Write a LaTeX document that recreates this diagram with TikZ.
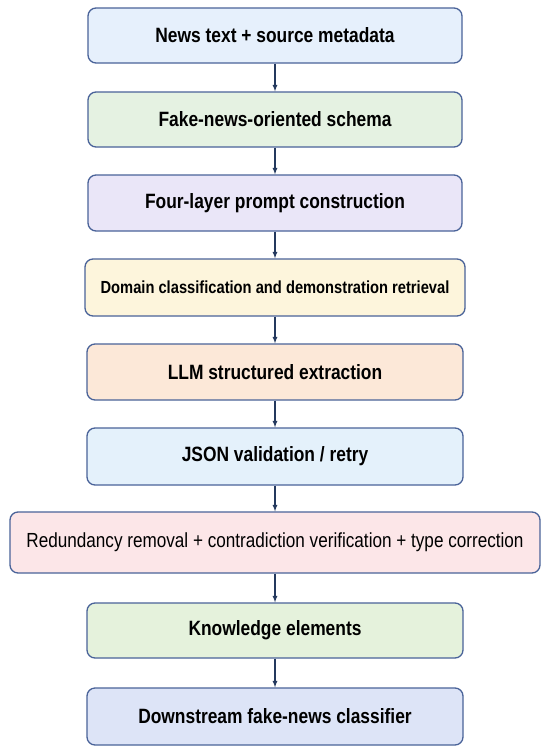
\documentclass[tikz,border=0pt]{standalone}
\usepackage{fontspec}
\setmainfont[FakeStretch=0.84]{Liberation Sans}
\definecolor{boxline}{HTML}{4A6399}
\definecolor{arrowc}{HTML}{24395E}
\definecolor{cnews}{HTML}{E6F0FC}
\definecolor{cschema}{HTML}{E5F2E2}
\definecolor{cprompt}{HTML}{EAE6F8}
\definecolor{cdomain}{HTML}{FDF5DC}
\definecolor{cllm}{HTML}{FCE8D8}
\definecolor{cjson}{HTML}{E4F1FB}
\definecolor{cclean}{HTML}{FCE6E8}
\definecolor{cknow}{HTML}{E5F2DC}
\definecolor{cdown}{HTML}{DDE4F7}
\begin{document}
\begin{tikzpicture}[x=1pt,y=-1pt,>=latex,font=\bfseries\fontsize{20.7}{24}\selectfont,
	box/.style={draw=boxline,line width=1.3pt,rounded corners=8pt,minimum width=374pt,minimum height=55pt,inner sep=0pt},
	link/.style={->,draw=arrowc,line width=1.2pt}]
	\useasboundingbox (0,0) rectangle (550,755);
	\fill[white] (0,0) rectangle (550,755);
	\node[box,fill=cnews] (news) at (275,35.5) {News text + source metadata};
	\node[box,fill=cschema] (schema) at (275,119.5) {Fake-news-oriented schema};
	\node[box,fill=cprompt,minimum height=56pt] (prompt) at (275,203) {Four-layer prompt construction};
	\node[box,fill=cdomain,minimum width=380pt,minimum height=57pt,font=\bfseries\fontsize{17.5}{20}\selectfont] (domain) at (275,287.5) {Domain classification and demonstration retrieval};
	\node[box,fill=cllm,minimum width=376pt,minimum height=56pt] (llm) at (275,372) {LLM structured extraction};
	\node[box,fill=cjson,minimum width=376pt,minimum height=57pt] (json) at (275,456.5) {JSON validation / retry};
	\node[box,fill=cclean,minimum width=530pt,minimum height=61pt,font=\fontsize{20.4}{23}\selectfont] (clean) at (275,542.5) {Redundancy removal + contradiction verification + type correction};
	\node[box,fill=cknow,minimum width=376pt] (know) at (275,630.5) {Knowledge elements};
	\node[box,fill=cdown,minimum width=376pt,minimum height=57pt] (down) at (275,716.5) {Downstream fake-news classifier};
	\draw[link] (news)--(schema);
	\draw[link] (schema)--(prompt);
	\draw[link] (prompt)--(domain);
	\draw[link] (domain)--(llm);
	\draw[link] (llm)--(json);
	\draw[link] (json)--(clean);
	\draw[link] (clean)--(know);
	\draw[link] (know)--(down);
\end{tikzpicture}
\end{document}
